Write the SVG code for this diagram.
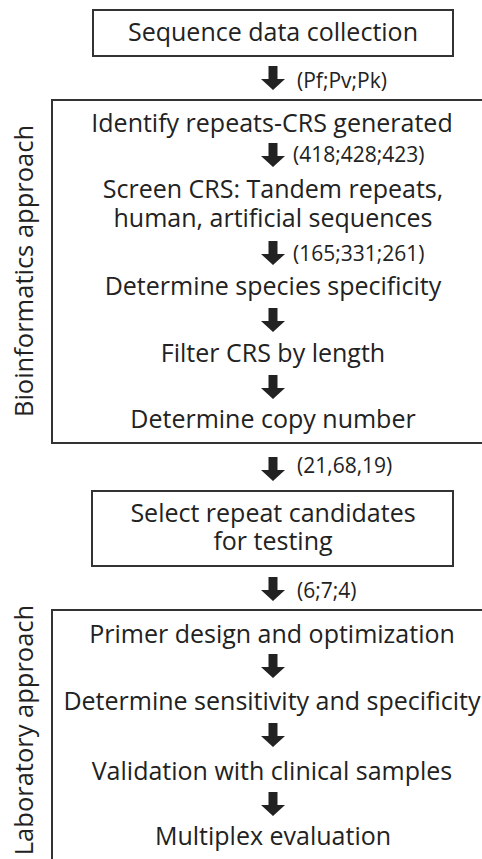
<svg xmlns="http://www.w3.org/2000/svg" width="482" height="859" viewBox="0 0 482 859">
<style>
.box{fill:#fff;stroke:#333;stroke-width:2}
.t{font-family:"Open Sans","Noto Sans","DejaVu Sans",sans-serif;font-size:25px;fill:#222;text-anchor:middle}
.r{font-family:"Open Sans","Noto Sans","DejaVu Sans",sans-serif;font-size:25.5px;fill:#222;text-anchor:middle}
.s{font-family:"Open Sans","Noto Sans","DejaVu Sans",sans-serif;font-size:21px;fill:#222}
.arr{fill:#222}
</style>
<defs>
<path id="a" d="M-4.5,0 H4.5 V13 H12 L0,24 L-12,13 H-4.5 Z"/>
</defs>
<rect width="482" height="859" fill="#fff"/>
<g id="n1">
<rect class="box" x="93" y="10" width="360" height="46"/>
<text class="t" x="273" y="41">Sequence data collection</text>
</g>
<g id="bio">
<rect class="box" x="52" y="100" width="440" height="343"/>
<text class="r" transform="translate(33,271) rotate(-90)">Bioinformatics approach</text>
<text class="t" x="272" y="132">Identify repeats-CRS generated</text>
<text class="t"><tspan x="273" y="198">Screen CRS: Tandem repeats,</tspan><tspan x="273" y="227">human, artificial sequences</tspan></text>
<text class="t" x="273" y="295">Determine species specificity</text>
<text class="t" x="273" y="362">Filter CRS by length</text>
<text class="t" x="273" y="428">Determine copy number</text>
</g>
<g id="sel">
<rect class="box" x="92" y="491" width="361" height="75"/>
<text class="t"><tspan x="273" y="522">Select repeat candidates</tspan><tspan x="273" y="550">for testing</tspan></text>
</g>
<g id="lab">
<rect class="box" x="52" y="610" width="440" height="270"/>
<text class="r" transform="translate(33,730) rotate(-90)">Laboratory approach</text>
<text class="t" x="272" y="643">Primer design and optimization</text>
<text class="t" x="272" y="710">Determine sensitivity and specificity</text>
<text class="t" x="272" y="780">Validation with clinical samples</text>
<text class="t" x="273" y="845">Multiplex evaluation</text>
</g>
<g id="connectors">
<use class="arr" href="#a" x="273" y="66"/>
<text class="s" x="297" y="88">(Pf;Pv;Pk)</text>
<use class="arr" href="#a" x="273" y="143"/>
<text class="s" x="293" y="162">(418;428;423)</text>
<use class="arr" href="#a" x="273" y="241"/>
<text class="s" x="293" y="261">(165;331;261)</text>
<use class="arr" href="#a" x="273" y="308"/>
<use class="arr" href="#a" x="273" y="375"/>
<use class="arr" href="#a" x="273" y="457"/>
<text class="s" x="297" y="473">(21,68,19)</text>
<use class="arr" href="#a" x="273" y="577"/>
<text class="s" x="297" y="598">(6;7;4)</text>
<use class="arr" href="#a" x="273" y="654"/>
<use class="arr" href="#a" x="273" y="723"/>
<use class="arr" href="#a" x="273" y="792"/>
</g>
</svg>
